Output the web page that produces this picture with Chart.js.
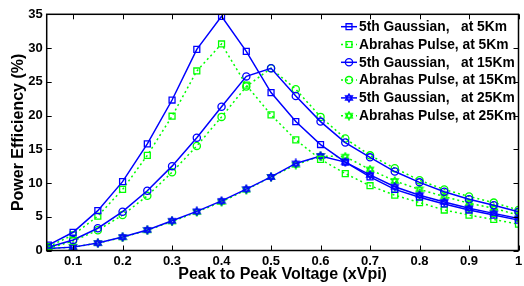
<!DOCTYPE html>
<html><head><meta charset="utf-8">
<script src="https://cdn.jsdelivr.net/npm/chart.js@4.4.1/dist/chart.umd.min.js"></script>
<style>html,body{margin:0;padding:0;background:#fff;overflow:hidden}</style>
</head><body>
<canvas id="c" width="524" height="286" style="display:block;width:524px;height:286px"></canvas>
<script>
// ---- data ----
const xValues = [0.05,0.1,0.15,0.2,0.25,0.3,0.35,0.4,0.45,0.5,0.55,0.6,0.65,0.7,0.75,0.8,0.85,0.9,0.95,1.0];
const gauss5  = [0.8,2.7,5.9,10.2,15.8,22.3,29.8,34.7,29.5,23.4,19.1,15.7,13.1,10.9,9.05,7.9,6.9,6.0,5.25,4.5];
const abr5    = [0.56,2.3,5.1,9.05,14.1,19.9,26.6,30.6,24.5,20.1,16.4,13.5,11.4,9.6,8.2,7.1,6.0,5.25,4.6,3.9];
const gauss15 = [0.47,1.55,3.3,5.75,8.85,12.5,16.7,21.3,25.8,27.0,22.9,19.1,16.0,13.8,11.7,10.1,8.7,7.6,6.7,5.75];
const abr15   = [0.3,1.4,3.0,5.25,8.1,11.6,15.5,19.8,24.3,27.0,23.9,19.8,16.6,14.1,12.2,10.4,9.05,8.0,7.1,6.0];
const gauss25 = [0.3,0.5,1.1,2.0,3.05,4.4,5.8,7.35,9.1,10.9,12.9,14.0,13.1,11.2,9.45,8.2,7.2,6.25,5.5,4.75];
const abr25   = [0.3,0.5,1.1,1.95,3.0,4.3,5.7,7.2,9.0,10.9,12.7,14.0,13.9,12.0,10.3,9.05,8.0,7.0,6.25,5.25];
const seriesLabels = ['5th Gaussian,   at 5Km','Abrahas Pulse, at 5Km','5th Gaussian,   at 15Km','Abrahas Pulse, at 15Km','5th Gaussian,   at 25Km','Abrahas Pulse, at 25Km'];
const xTickLabels = [0.1,0.2,0.3,0.4,0.5,0.6,0.7,0.8,0.9,1];
const yTickLabels = [0,5,10,15,20,25,30,35];
const xTitle = 'Peak to Peak Voltage (xVpi)';
const yTitle = 'Power Efficiency (%)';

const BLUE = '#0000ff', GREEN = '#00ff00';
const FONT = '"Liberation Sans", Arial, Helvetica, sans-serif';

function makeStar(color){
  const c = document.createElement('canvas');
  c.width = 10; c.height = 10;
  const g = c.getContext('2d');
  g.strokeStyle = color; g.lineWidth = 1.3;
  const cx = 5, cy = 5, R = 4;
  for (let t = 0; t < 2; t++) {
    g.beginPath();
    for (let i = 0; i < 3; i++) {
      const a = -Math.PI/2 + t*Math.PI + i*2*Math.PI/3;
      const px = cx + R*Math.cos(a), py = cy + R*Math.sin(a);
      if (i === 0) g.moveTo(px, py); else g.lineTo(px, py);
    }
    g.closePath(); g.stroke();
  }
  return c;
}
const starBlue = makeStar(BLUE), starGreen = makeStar(GREEN);

function ds(label, data, color, dashed, style, r){
  return {
    label, data: data.map((v,i)=>({x:xValues[i], y:v})),
    borderColor: color, backgroundColor: 'rgba(0,0,0,0)',
    borderWidth: 1.5, borderDash: dashed ? [2,3] : [],
    pointStyle: style, pointRadius: r, pointBorderWidth: 1.3,
    pointBorderColor: color, pointBackgroundColor: 'rgba(0,0,0,0)',
    tension: 0, fill: false
  };
}
const datasets = [
  ds(seriesLabels[0], gauss5,  BLUE,  false, 'rect', 4.2),
  ds(seriesLabels[1], abr5,    GREEN, true,  'rect', 4.2),
  ds(seriesLabels[2], gauss15, BLUE,  false, 'circle', 3.6),
  ds(seriesLabels[3], abr15,   GREEN, true,  'circle', 3.6),
  ds(seriesLabels[4], gauss25, BLUE,  false, starBlue, 4),
  ds(seriesLabels[5], abr25,   GREEN, true,  starGreen, 4)
];

const framePlugin = {
  id: 'frame',
  afterDraw(chart){
    const {ctx, chartArea: a, scales} = chart;
    const xs = scales.x, ys = scales.y;
    ctx.save();
    ctx.strokeStyle = '#000'; ctx.lineWidth = 1.5; ctx.setLineDash([]);
    ctx.strokeRect(a.left, a.top, a.right - a.left, a.bottom - a.top);
    ctx.lineWidth = 1;
    const tl = 5;
    ctx.beginPath();
    xTickLabels.forEach(v => {
      const px = Math.round(xs.getPixelForValue(v)) + 0.5;
      ctx.moveTo(px, a.bottom); ctx.lineTo(px, a.bottom - tl);
      ctx.moveTo(px, a.top); ctx.lineTo(px, a.top + tl);
    });
    yTickLabels.forEach(v => {
      const py = Math.round(ys.getPixelForValue(v)) + 0.5;
      ctx.moveTo(a.left, py); ctx.lineTo(a.left + tl, py);
      ctx.moveTo(a.right, py); ctx.lineTo(a.right - tl, py);
    });
    ctx.stroke();

    // legend
    const lx0 = 341, lx1 = 357, tx = 359, y0 = 26.7, dy = 17.8;
    chart.data.datasets.forEach((d, i) => {
      const y = y0 + i*dy;
      ctx.strokeStyle = d.borderColor; ctx.lineWidth = 1.5;
      ctx.setLineDash(d.borderDash);
      ctx.beginPath(); ctx.moveTo(lx0, y); ctx.lineTo(lx1, y); ctx.stroke();
      ctx.setLineDash([]);
      ctx.lineWidth = d.pointBorderWidth;
      ctx.fillStyle = 'rgba(0,0,0,0)';
      ctx.strokeStyle = d.borderColor;
      Chart.helpers.drawPoint(ctx, {pointStyle: d.pointStyle, radius: d.pointRadius, rotation: 0, borderWidth: d.pointBorderWidth}, (lx0+lx1)/2, y);
      ctx.fillStyle = '#000';
      ctx.font = 'bold 13.8px ' + FONT;
      ctx.textBaseline = 'middle'; ctx.textAlign = 'left';
      ctx.fillText(d.label, tx, y + 0.5);
    });
    ctx.restore();
  }
};

new Chart(document.getElementById('c'), {
  type: 'line',
  data: { datasets },
  options: {
    responsive: false, animation: false, devicePixelRatio: 1,
    layout: { padding: { top: 14.3, right: 1.5, left: 0, bottom: 0 } },
    plugins: { legend: { display: false }, tooltip: { enabled: false } },
    scales: {
      x: {
        type: 'linear', min: 0.0467, max: 1.0,
        grid: { display: false, drawTicks: false },
        border: { display: false },
        afterBuildTicks: s => { s.ticks = xTickLabels.map(v => ({value: v})); },
        ticks: { color: '#000', font: { family: FONT, size: 13, weight: 'bold' }, padding: 3,
                 autoSkip: false, maxRotation: 0, callback: v => String(v) },
        title: { display: true, text: xTitle, color: '#000', font: { family: FONT, size: 16, weight: 'bold' }, padding: { top: 0, bottom: 2 } },
        afterFit: s => { s.height = 35.5; s.paddingLeft = 0; s.paddingRight = 0; }
      },
      y: {
        type: 'linear', min: 0, max: 35,
        grid: { display: false, drawTicks: false },
        border: { display: false },
        afterBuildTicks: s => { s.ticks = yTickLabels.map(v => ({value: v})); },
        ticks: { color: '#000', font: { family: FONT, size: 13, weight: 'bold' }, padding: 4, callback: v => String(v) },
        title: { display: true, text: yTitle, color: '#000', font: { family: FONT, size: 16, weight: 'bold' }, padding: { top: 9, bottom: 0 } },
        afterFit: s => { s.width = 46.7; s.paddingTop = 0; s.paddingBottom = 0; }
      }
    }
  },
  plugins: [framePlugin]
});
</script>
</body></html>
